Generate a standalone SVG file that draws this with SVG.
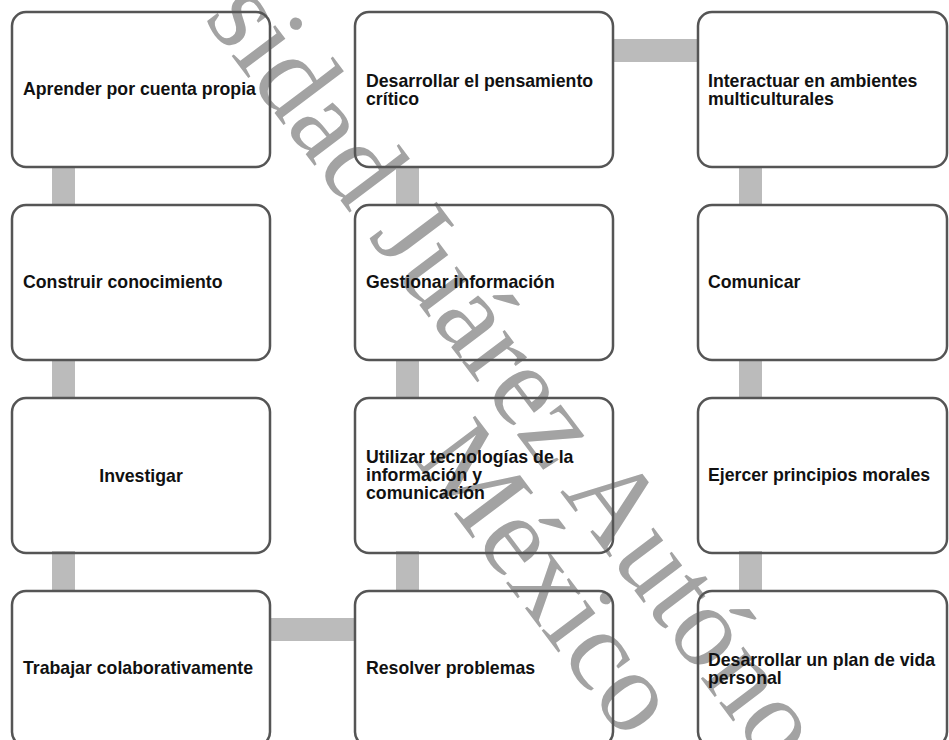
<svg xmlns="http://www.w3.org/2000/svg" width="949" height="740" viewBox="0 0 949 740">
<style>
.box{fill:none;stroke:#555555;stroke-width:2.5}
.lbl{font-family:"Liberation Sans",Arial,sans-serif;font-weight:bold;font-size:17.7px;fill:#111}
.bar{fill:#bbbbbb}
.wm{font-family:"Liberation Serif","Times New Roman",serif;font-size:116px;fill:#a3a3a3}
</style>
<rect width="949" height="740" fill="#ffffff"/>
<g id="watermark" transform="translate(203,18) rotate(53)">
<text class="wm" x="0" y="0">sidad Juárez Autóno</text>
<text class="wm" x="478" y="98">México</text>
</g>
<g id="connectors">
<rect class="bar" x="52" y="166" width="23" height="40"/>
<rect class="bar" x="52" y="359" width="23" height="40"/>
<rect class="bar" x="52" y="551" width="23" height="41"/>
<rect class="bar" x="269" y="618" width="87" height="23"/>
<rect class="bar" x="396" y="551" width="23" height="41"/>
<rect class="bar" x="396" y="359" width="23" height="40"/>
<rect class="bar" x="396" y="166" width="23" height="40"/>
<rect class="bar" x="612" y="39" width="87" height="23"/>
<rect class="bar" x="739" y="166" width="23" height="40"/>
<rect class="bar" x="739" y="359" width="23" height="40"/>
<rect class="bar" x="739" y="551" width="23" height="41"/>
</g>
<g id="n1"><rect class="box" x="12" y="12" width="258" height="155" rx="14"/><text class="lbl" x="23" y="95">Aprender por cuenta propia</text></g>
<g id="n2"><rect class="box" x="12" y="205" width="258" height="155" rx="14"/><text class="lbl" x="23" y="288">Construir conocimiento</text></g>
<g id="n3"><rect class="box" x="12" y="398" width="258" height="155" rx="14"/><text class="lbl" x="141" y="482" text-anchor="middle">Investigar</text></g>
<g id="n4"><rect class="box" x="12" y="591" width="258" height="155" rx="14"/><text class="lbl" x="23" y="674">Trabajar colaborativamente</text></g>
<g id="n5"><rect class="box" x="355" y="591" width="258" height="155" rx="14"/><text class="lbl" x="366" y="674">Resolver problemas</text></g>
<g id="n6"><rect class="box" x="355" y="398" width="258" height="155" rx="14"/><text class="lbl" x="366" y="463">Utilizar tecnologías de la</text><text class="lbl" x="366" y="481">información y</text><text class="lbl" x="366" y="499">comunicación</text></g>
<g id="n7"><rect class="box" x="355" y="205" width="258" height="155" rx="14"/><text class="lbl" x="366" y="288">Gestionar información</text></g>
<g id="n8"><rect class="box" x="355" y="12" width="258" height="155" rx="14"/><text class="lbl" x="366" y="87">Desarrollar el pensamiento</text><text class="lbl" x="366" y="105">crítico</text></g>
<g id="n9"><rect class="box" x="698" y="12" width="249" height="155" rx="14"/><text class="lbl" x="708" y="87">Interactuar en ambientes</text><text class="lbl" x="708" y="105">multiculturales</text></g>
<g id="n10"><rect class="box" x="698" y="205" width="249" height="155" rx="14"/><text class="lbl" x="708" y="288">Comunicar</text></g>
<g id="n11"><rect class="box" x="698" y="398" width="249" height="155" rx="14"/><text class="lbl" x="708" y="481">Ejercer principios morales</text></g>
<g id="n12"><rect class="box" x="698" y="591" width="249" height="155" rx="14"/><text class="lbl" x="708" y="666">Desarrollar un plan de vida</text><text class="lbl" x="708" y="684">personal</text></g>
</svg>
